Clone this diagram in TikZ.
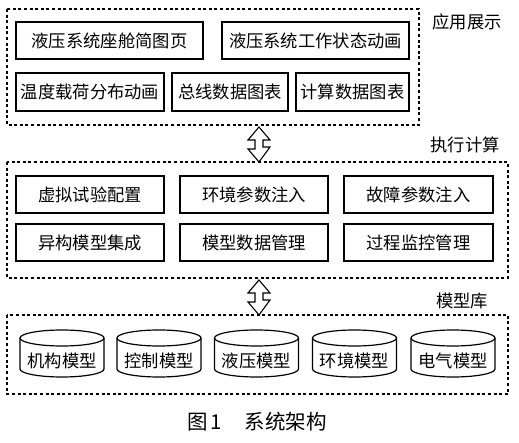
\documentclass[tikz,border=0pt]{standalone}
\usepackage{fontspec}
\setmainfont{Noto Sans CJK SC}
\usetikzlibrary{calc}
\begin{document}
\begin{tikzpicture}[x=1pt,y=-1pt,
  txt/.style={font=\fontsize{17.3}{18}\selectfont, inner sep=0pt},
  solidbox/.style={draw, line width=1.3pt, inner sep=0pt, font=\fontsize{17.3}{18}\selectfont},
  dashbox/.style={draw, line width=1.1pt, dash pattern=on 3pt off 2.6pt},
  blockarrow/.style={draw, line width=1.1pt, fill=white, line join=miter},
  cyl/.style={draw, line width=1.2pt}
]
\useasboundingbox (0,0) rectangle (519,443);
% --- layer boxes
\draw[dashbox] (7,9) rectangle (419,125);
\draw[dashbox] (7,162) rectangle (508,278);
\draw[dashbox] (7,315) rectangle (508,394);
\coordinate (topS) at (259,125);
\coordinate (midN) at (259,162);
\coordinate (midS) at (259,278);
\coordinate (botN) at (259,315);
% --- labels
\node[txt] (l1) at (467,22) {应用展示};
\node[txt] (l2) at (465,145) {执行计算};
\node[txt] (l3) at (462,301) {模型库};
% --- top layer
\node[solidbox, minimum width=187pt, minimum height=37pt] (a1) at (109.5,40.5) {液压系统座舱简图页};
\node[solidbox, minimum width=187pt, minimum height=37pt] (a2) at (315.5,40.5) {液压系统工作状态动画};
\node[solidbox, minimum width=148pt, minimum height=38pt] (a3) at (90,92) {温度载荷分布动画};
\node[solidbox, minimum width=116pt, minimum height=38pt] (a4) at (230,92) {总线数据图表};
\node[solidbox, minimum width=113pt, minimum height=38pt] (a5) at (352.5,92) {计算数据图表};
% --- middle layer
\node[solidbox, minimum width=148pt, minimum height=37pt] (b1) at (90,194.5) {虚拟试验配置};
\node[solidbox, minimum width=148pt, minimum height=37pt] (b2) at (254,194.5) {环境参数注入};
\node[solidbox, minimum width=149pt, minimum height=37pt] (b3) at (418.5,194.5) {故障参数注入};
\node[solidbox, minimum width=148pt, minimum height=37pt] (b4) at (90,242.5) {异构模型集成};
\node[solidbox, minimum width=148pt, minimum height=37pt] (b5) at (254,242.5) {模型数据管理};
\node[solidbox, minimum width=149pt, minimum height=37pt] (b6) at (418.5,242.5) {过程监控管理};
% --- block arrows
\foreach \s/\e in {topS/midN, midS/botN}{
  \draw[blockarrow] ($(\s)+(0,2)$) -- ++(11,13) -- ++(-7,0) -- ($(\e)+(4,-15)$) -- ++(7,0)
     -- ($(\e)+(0,0)$) -- ++(-11,-13) -- ++(7,0) -- ($(\s)+(-4,15)$) -- ++(-7,0) -- cycle;
}
% --- cylinders
\foreach \cx/\name/\lbl in {62/c1/机构模型, 159/c2/控制模型, 256.5/c3/液压模型, 354.5/c4/环境模型, 453/c5/电气模型}{
  \node[txt, minimum width=84pt, minimum height=47pt] (\name) at (\cx,361) {\lbl};
  \draw[cyl] (\cx,338) ellipse[x radius=42, y radius=8];
  \draw[cyl] ($(\cx,338)+(-42,0)$) -- ($(\cx,369)+(-42,0)$)
     arc[start angle=180, end angle=0, x radius=42, y radius=8]
     -- ($(\cx,338)+(42,0)$);
}
% --- caption
\node[inner sep=0pt, font=\fontsize{20.5}{22}\selectfont] (cap) at (257,422) {图\,1\hspace{1.1em}系统架构};
\end{tikzpicture}
\end{document}
